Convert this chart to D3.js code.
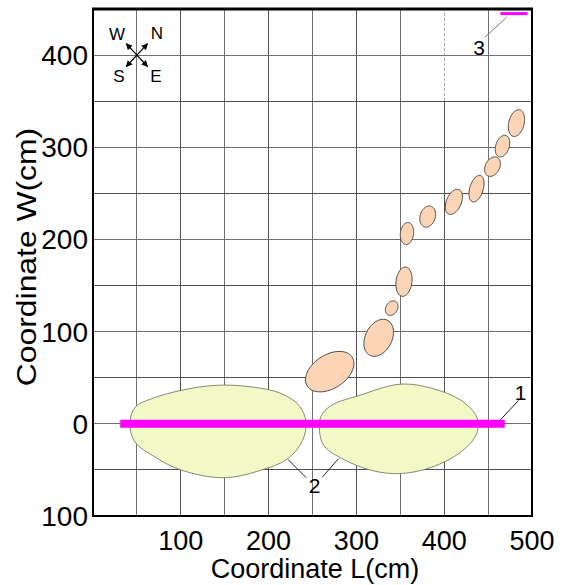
<!DOCTYPE html>
<html>
<head>
<meta charset="utf-8">
<script src="https://cdn.jsdelivr.net/npm/d3@7"></script>
<style>
body { margin: 0; background: #fff; }
text { font-family: Arial, "Liberation Sans", sans-serif; fill: #000; }
</style>
</head>
<body>
<script>
// axes
var xTicks = [100, 200, 300, 400, 500];
var yTicks = [-100, 0, 100, 200, 300, 400];
var yTickLabels = ["100", "0", "100", "200", "300", "400"];
var gridX = [50, 100, 150, 200, 250, 300, 350, 400, 450];
var gridY = [-50, 0, 50, 100, 150, 200, 250, 300, 350, 400];

// green zones (outline points, cm)
var zoneLeft = [[42, 0], [48, 18], [66, 27], [99, 36], [140, 41.8], [181, 40], [214, 33], [234.6, 20],
  [242.6, 2], [238.7, -18], [222, -37.7], [189, -51], [148, -58.5], [100, -50], [70.6, -36], [47.8, -19.7]];
var zoneRight = [[258.5, -12], [259.5, 8], [271.5, 20], [304, 31], [349.7, 43], [386, 38.5], [419, 25.5],
  [437, 7.4], [437, -10.6], [419, -30.6], [386, -47], [349.7, -54], [316.6, -50.4], [283.6, -37.7], [264, -25]];

// orange spots: centre x, centre y, semi axes (cm), tilt (deg)
var spotX = [269.6, 325.4, 340.2, 354.2, 357.6, 381.2, 411.0, 436.8, 455.0, 466.4, 482.3];
var spotY = [56.6, 93.3, 125.5, 154.2, 206.4, 224.8, 240.8, 255.1, 279.0, 301.2, 326.2];
var spotA = [30, 21.5, 8.5, 16, 12, 11.8, 14.5, 15, 11.3, 12.2, 14.8];
var spotB = [18.5, 15, 6.5, 9, 7.5, 8.6, 8.4, 7.6, 8, 7.6, 8.7];
var spotTilt = [30, 60, 55, 82, 82, 70, 65, 72, 60, 70, 75];

// magenta lines
var line1 = [[31, 0], [469, 0]];
var line3 = [[464, 445], [495, 445]];

var width = 563, height = 585;
var margin = {top: 9, right: 31, bottom: 69, left: 93};

var x = d3.scaleLinear().domain([0, 500]).range([margin.left, width - margin.right]);
var y = d3.scaleLinear().domain([-100, 450]).range([height - margin.bottom, margin.top]);

var svg = d3.select("body").append("svg")
  .attr("width", width)
  .attr("height", height);

// grid
svg.append("g").selectAll("line")
  .data(gridX)
  .enter().append("line")
  .attr("x1", function(d){ return x(d); })
  .attr("x2", function(d){ return x(d); })
  .attr("y1", y(-100))
  .attr("y2", function(d){ return d == 400 ? y(350) : y(450); })
  .attr("stroke", function(d, i){ return i % 2 ? "#505050" : "#707070"; })
  .attr("stroke-width", 1)
  .attr("shape-rendering", "crispEdges");

svg.append("line")
  .attr("x1", x(400)).attr("x2", x(400))
  .attr("y1", y(350)).attr("y2", y(450))
  .attr("stroke", "#aaa")
  .attr("stroke-dasharray", "3,2")
  .attr("shape-rendering", "crispEdges");

svg.append("g").selectAll("line")
  .data(gridY)
  .enter().append("line")
  .attr("x1", x(0))
  .attr("x2", x(500))
  .attr("y1", function(d){ return y(d); })
  .attr("y2", function(d){ return y(d); })
  .attr("stroke", function(d, i){ return i % 2 ? "#707070" : "#505050"; })
  .attr("stroke-width", 1)
  .attr("shape-rendering", "crispEdges");

// zones
var zoneLine = d3.line()
  .x(function(d){ return x(d[0]); })
  .y(function(d){ return y(d[1]); })
  .curve(d3.curveCatmullRomClosed.alpha(0.5));

svg.append("g").selectAll("path")
  .data([zoneLeft, zoneRight])
  .enter().append("path")
  .attr("d", zoneLine)
  .attr("fill", "#f3f9c6")
  .attr("stroke", "#6b6b5a")
  .attr("stroke-width", 0.8);

// spots
function ellipsePts(i) {
  var pts = [];
  var th = spotTilt[i] * Math.PI / 180;
  for (var k = 0; k < 72; k++) {
    var t = k / 72 * 2 * Math.PI;
    var u = spotA[i] * Math.cos(t), v = spotB[i] * Math.sin(t);
    pts.push([spotX[i] + u * Math.cos(th) - v * Math.sin(th),
              spotY[i] + u * Math.sin(th) + v * Math.cos(th)]);
  }
  return pts;
}
var spotLine = d3.line()
  .x(function(d){ return x(d[0]); })
  .y(function(d){ return y(d[1]); })
  .curve(d3.curveLinearClosed);

svg.append("g").selectAll("path")
  .data(d3.range(spotX.length))
  .enter().append("path")
  .attr("d", function(i){ return spotLine(ellipsePts(i)); })
  .attr("fill", "#fcd5b6")
  .attr("stroke", "#4a4a4a")
  .attr("stroke-width", 1);

// magenta lines
svg.append("line")
  .attr("x1", x(line1[0][0])).attr("x2", x(line1[1][0]))
  .attr("y1", y(line1[0][1])).attr("y2", y(line1[1][1]))
  .attr("stroke", "#ff00ff").attr("stroke-width", 8);
svg.append("line")
  .attr("x1", x(line3[0][0])).attr("x2", x(line3[1][0]))
  .attr("y1", y(line3[0][1])).attr("y2", y(line3[1][1]))
  .attr("stroke", "#ff00ff").attr("stroke-width", 3);

// leaders and numbers
var leaders = [
  [[464.3, 4.6], [484.8, 25.5]],
  [[222.3, -38.8], [242.8, -58.4]],
  [[279.7, -37.7], [261.3, -57.7]],
  [[446.5, 419.5], [471.2, 441.2]]
];
svg.append("g").selectAll("line")
  .data(leaders)
  .enter().append("line")
  .attr("x1", function(d){ return x(d[0][0]); })
  .attr("y1", function(d){ return y(d[0][1]); })
  .attr("x2", function(d){ return x(d[1][0]); })
  .attr("y2", function(d){ return y(d[1][1]); })
  .attr("stroke", function(d, i){ return i == 3 ? "#777" : "#222"; })
  .attr("stroke-width", 1);

var marks = [["1", 487, 34.5], ["2", 252.3, -66.7], ["3", 439.6, 408.7]];
svg.append("g").selectAll("text")
  .data(marks)
  .enter().append("text")
  .attr("x", function(d){ return x(d[1]); })
  .attr("y", function(d){ return y(d[2]) + 8; })
  .attr("text-anchor", "middle")
  .style("font-size", "21px")
  .text(function(d){ return d[0]; });

// compass
var cx = x(50), cy = y(400), r = 13;
svg.append("defs").append("marker")
  .attr("id", "ah")
  .attr("viewBox", "0 0 10 10")
  .attr("refX", 9).attr("refY", 5)
  .attr("markerWidth", 5).attr("markerHeight", 5)
  .attr("orient", "auto")
  .append("path").attr("d", "M0,0L10,5L0,10z").attr("fill", "#000");
[[-1, -1], [1, -1], [-1, 1], [1, 1]].forEach(function(s){
  svg.append("line")
    .attr("x1", cx).attr("y1", cy)
    .attr("x2", cx + s[0] * r * 0.82).attr("y2", cy + s[1] * r * 0.88)
    .attr("stroke", "#000").attr("stroke-width", 1.3)
    .attr("marker-end", "url(#ah)");
});
var comp = [["W", -20, -13], ["N", 20, -14], ["S", -18, 29], ["E", 19, 29]];
svg.append("g").selectAll("text")
  .data(comp)
  .enter().append("text")
  .attr("x", function(d){ return cx + d[1]; })
  .attr("y", function(d){ return cy + d[2] - 2; })
  .attr("text-anchor", "middle")
  .style("font-size", "17px")
  .text(function(d){ return d[0]; });

// frame
svg.append("rect")
  .attr("x", x(0)).attr("y", y(450))
  .attr("width", x(500) - x(0)).attr("height", y(-100) - y(450))
  .attr("fill", "none").attr("stroke", "#000").attr("stroke-width", 2);
svg.append("line")
  .attr("x1", x(0) - 1).attr("x2", x(500) + 1)
  .attr("y1", y(450)).attr("y2", y(450))
  .attr("stroke", "#000").attr("stroke-width", 3);

// tick labels
svg.append("g").selectAll("text")
  .data(yTicks)
  .enter().append("text")
  .attr("x", x(0) - 5)
  .attr("y", function(d){ return y(d) + 10; })
  .attr("text-anchor", "end")
  .style("font-size", "28px")
  .text(function(d, i){ return yTickLabels[i]; });

svg.append("g").selectAll("text")
  .data(xTicks)
  .enter().append("text")
  .attr("x", function(d){ return x(d); })
  .attr("y", 550)
  .attr("text-anchor", "middle")
  .style("font-size", "27px")
  .text(function(d){ return d; });

// axis titles
svg.append("text")
  .attr("x", 315).attr("y", 578)
  .attr("text-anchor", "middle")
  .style("font-size", "27px")
  .text("Coordinate L(cm)");
svg.append("text")
  .attr("transform", "translate(36,257) rotate(-90) scale(1.18,1)")
  .attr("text-anchor", "middle")
  .style("font-size", "27px")
  .text("Coordinate W(cm)");
</script>
</body>
</html>
